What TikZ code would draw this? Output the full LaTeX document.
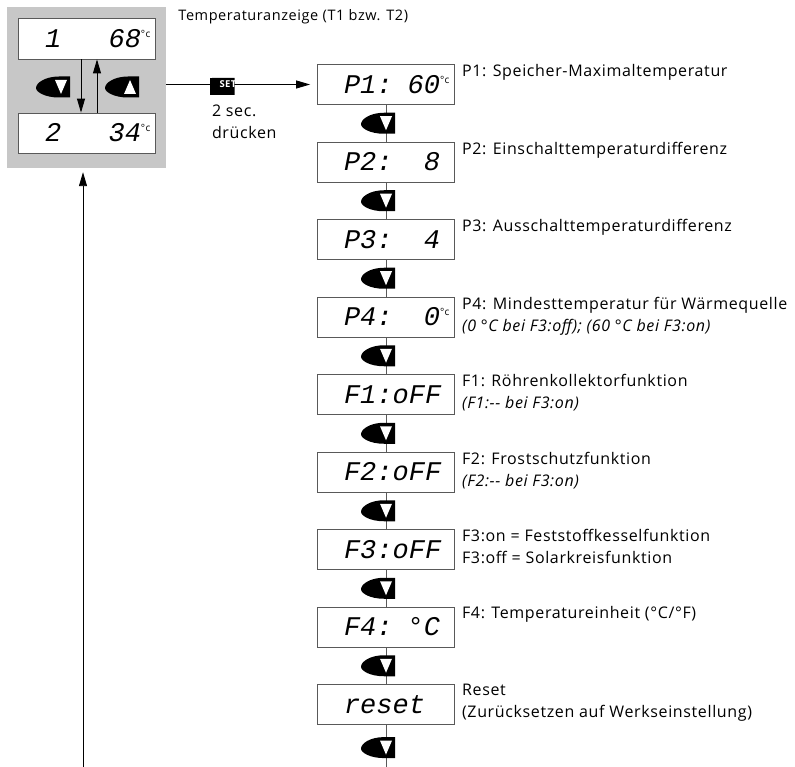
\documentclass[tikz,border=0pt]{standalone}
\usepackage{fontspec}
\setmainfont{Open Sans}[LetterSpace=4]
\newfontfamily\lcdfont{Liberation Mono}
\usetikzlibrary{arrows.meta,positioning,calc}

\definecolor{panelgray}{gray}{0.78}
\definecolor{framegray}{gray}{0.35}

% small unit sign next to the digits
\newcommand\degc{\raisebox{10pt}{\normalfont\fontsize{10}{10}\selectfont °c}}
% display line: left part, right part, unit
\newcommand\lcd[3]{\makebox[136pt][l]{\lcdfont\itshape\fontsize{27}{27}\selectfont\hspace*{26pt}#1\hfill#2\makebox[14pt][l]{#3}}}
% dark key body, #1 = what is drawn on it
\newcommand\keyblob[1]{%
  \begin{scope}[shift={(path picture bounding box.center)}, x=1pt, y=1pt]
    \fill[black] (17,10.5) -- (17,-10.5) -- (6,-10.5) .. controls (-8,-10.5) and (-17,-5) .. (-17,-1)
      .. controls (-17,4) and (-8,10.5) .. (6,10.5) -- cycle;
    #1
  \end{scope}}
% fuller key body for SET
\newcommand\setblob{%
  \begin{scope}[shift={(path picture bounding box.center)}, x=1pt, y=1pt]
    \fill[black] (17,10) -- (17,-10) -- (-4,-10) .. controls (-13,-10) and (-17,-5) .. (-17,0)
      .. controls (-17,5) and (-13,10) .. (-4,10) -- cycle;
  \end{scope}}

\begin{document}
\begin{tikzpicture}[x=1pt, y=-1pt,
  panel/.style={fill=panelgray, minimum width=159pt, minimum height=161pt, inner sep=0pt},
  lcdbox/.style={draw=framegray, fill=white, line width=0.8pt, minimum width=137pt, minimum height=40pt, inner sep=0pt},
  lbl/.style={align=left, font=\fontsize{16}{22}\selectfont, inner sep=0pt},
  keybase/.style={minimum width=34pt, minimum height=21pt, inner sep=0pt},
  keydown/.style={keybase, path picture={\keyblob{\fill[white] (2,7) -- (14,7) -- (8,-7) -- cycle;}}},
  keyup/.style={keybase, path picture={\keyblob{\fill[white] (2,-7) -- (14,-7) -- (8,7) -- cycle;}}},
  setkey/.style={keybase, path picture={\setblob}, text=white, font=\fontsize{9.5}{9.5}\selectfont\bfseries},
  arr/.style={-{Triangle[length=14pt,width=8pt]}, line width=0.9pt},
  link/.style={draw=framegray, line width=1pt}
]
\useasboundingbox (0,0) rectangle (795,767);

% temperature display
\node[panel] (panel) at (86.5,87.5) {};
\node[lcdbox, minimum height=41pt] (t1) at (87,38.5) {\lcd{1}{68}{\degc}};
\node[lcdbox] (t2) at (87,133) {\lcd{2}{34}{\degc}};
\draw[arr] ([xshift=-6pt]t1.south) -- ([xshift=-6pt]t2.north);
\draw[arr] ([xshift=10pt]t2.north) -- ([xshift=10pt]t1.south);
\node[keydown] (kdown) at (53,87) {};
\node[keyup] (kup) at (122,87) {};
\node[lbl, font=\fontsize{14.5}{20}\selectfont, below right=2pt and 12pt of panel.north east] (title) {Temperaturanzeige (T1 bzw. T2)};

% menu
\node[lcdbox] (p1) at (386,84.5) {\lcd{P1:}{60}{\degc}};
\node[lcdbox, below=36.7pt of p1] (p2) {\lcd{P2:}{8}{}};
\node[lcdbox, below=36.7pt of p2] (p3) {\lcd{P3:}{4}{}};
\node[lcdbox, below=36.7pt of p3] (p4) {\lcd{P4:}{0}{\degc}};
\node[lcdbox, below=36.7pt of p4] (f1) {\lcd{F1:oFF}{}{}};
\node[lcdbox, below=36.7pt of f1] (f2) {\lcd{F2:oFF}{}{}};
\node[lcdbox, below=36.7pt of f2] (f3) {\lcd{F3:oFF}{}{}};
\node[lcdbox, below=36.7pt of f3] (f4) {\lcd{F4:}{°C}{}};
\node[lcdbox, below=36.7pt of f4] (reset) {\lcd{reset}{}{}};

\draw[arr, shorten >=7pt] (panel.east |- p1.west) -- (p1.west);
\node[setkey] (set) at (227,84.5) {\hspace*{2pt}SET};
\node[lbl, below=10pt of set.south west, anchor=north west, xshift=2pt] (hold) {2 sec.\\drücken};

\draw[link] (p1) -- (p2);
\draw[link] (p2) -- (p3);
\draw[link] (p3) -- (p4);
\draw[link] (p4) -- (f1);
\draw[link] (f1) -- (f2);
\draw[link] (f2) -- (f3);
\draw[link] (f3) -- (f4);
\draw[link] (f4) -- (reset);
\coordinate (colend) at (386,767);
\draw[link] (reset) -- (colend);

\node[keydown, xshift=-8pt] (k1) at ($(p1.south)!.5!(p2.north)$) {};
\node[keydown, xshift=-8pt] (k2) at ($(p2.south)!.5!(p3.north)$) {};
\node[keydown, xshift=-8pt] (k3) at ($(p3.south)!.5!(p4.north)$) {};
\node[keydown, xshift=-8pt] (k4) at ($(p4.south)!.5!(f1.north)$) {};
\node[keydown, xshift=-8pt] (k5) at ($(f1.south)!.5!(f2.north)$) {};
\node[keydown, xshift=-8pt] (k6) at ($(f2.south)!.5!(f3.north)$) {};
\node[keydown, xshift=-8pt] (k7) at ($(f3.south)!.5!(f4.north)$) {};
\node[keydown, xshift=-8pt] (k8) at ($(f4.south)!.5!(reset.north)$) {};
\node[keydown, below=12pt of reset, xshift=-8pt] (k9) {};

% back to the display
\coordinate (loopend) at (83,767);
\draw[arr, shorten >=4pt] (loopend) -- (loopend |- panel.south);

% descriptions
\node[lbl, right=7pt of p1.north east, anchor=north west] (lp1) {P1: Speicher-Maximaltemperatur};
\node[lbl, right=7pt of p2.north east, anchor=north west] (lp2) {P2: Einschalttemperaturdifferenz};
\node[lbl, right=7pt of p3.north east, anchor=north west] (lp3) {P3: Ausschalttemperaturdifferenz};
\node[lbl, right=7pt of p4.north east, anchor=north west] (lp4) {P4: Mindesttemperatur für Wärmequelle\\\textit{(0 °C bei F3:off); (60 °C bei F3:on)}};
\node[lbl, right=7pt of f1.north east, anchor=north west] (lf1) {F1: Röhrenkollektorfunktion\\\textit{(F1:-{}- bei F3:on)}};
\node[lbl, right=7pt of f2.north east, anchor=north west] (lf2) {F2: Frostschutzfunktion\\\textit{(F2:-{}- bei F3:on)}};
\node[lbl, right=7pt of f3.north east, anchor=north west] (lf3) {F3:on = Feststoffkesselfunktion\\F3:off = Solarkreisfunktion};
\node[lbl, right=7pt of f4.north east, anchor=north west] (lf4) {F4: Temperatureinheit (°C/°F)};
\node[lbl, right=7pt of reset.north east, anchor=north west] (lreset) {Reset\\(Zurücksetzen auf Werkseinstellung)};
\end{tikzpicture}
\end{document}
